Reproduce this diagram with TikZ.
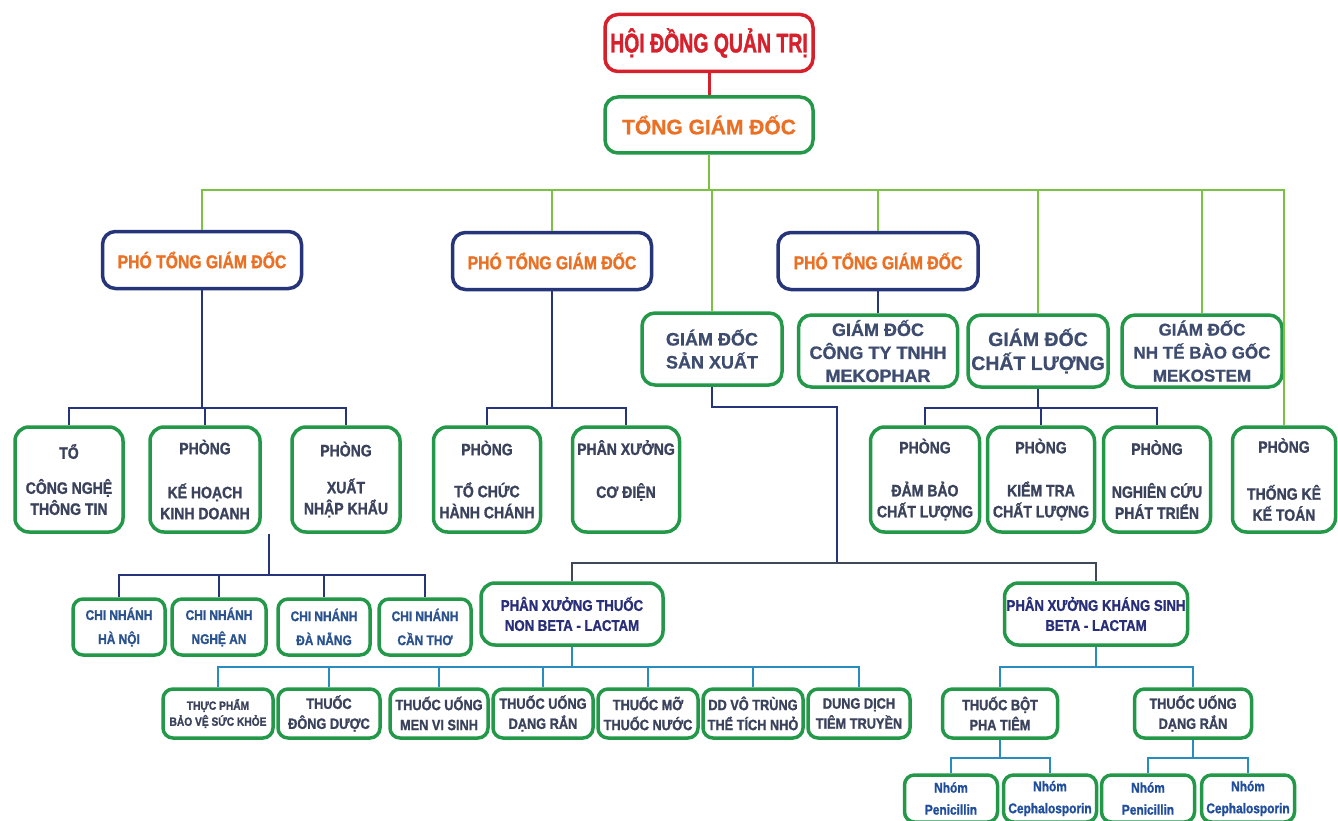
\documentclass[tikz,border=0pt]{standalone}
\usepackage{fontspec}
\setmainfont{Liberation Sans}[BoldFeatures={FakeBold=0.8}]
\newfontfamily\narrowfont{Liberation Sans}[FakeStretch=0.85,BoldFeatures={FakeBold=1.2}]
\newfontfamily\tallfont{Liberation Sans}[FakeStretch=0.72,BoldFeatures={FakeBold=1.2}]
\usetikzlibrary{calc}
\definecolor{boardred}{RGB}{214,32,44}
\definecolor{boxgreen}{RGB}{34,152,72}
\definecolor{linegreen}{RGB}{124,194,66}
\definecolor{headorange}{RGB}{236,112,36}
\definecolor{navy}{RGB}{38,52,122}
\definecolor{slate}{RGB}{58,66,92}
\definecolor{gdtext}{RGB}{62,76,112}
\definecolor{sky}{RGB}{40,140,190}
\definecolor{deepblue}{RGB}{40,46,120}
\definecolor{branchblue}{RGB}{42,82,142}
\definecolor{groupblue}{RGB}{33,78,156}
\definecolor{busgray}{RGB}{62,72,88}

\begin{document}
\begin{tikzpicture}[x=1pt,y=-1pt,
    box/.style={draw=boxgreen,line width=3.5pt,rounded corners=13pt,fill=white,align=center,inner sep=1pt},
    topbox/.style={box,draw=boardred,text=boardred,font=\tallfont\bfseries\fontsize{27}{30}\selectfont,minimum width=208pt,minimum height=57pt},
    ceobox/.style={box,text=headorange,font=\bfseries\fontsize{21}{24}\selectfont,minimum width=208pt,minimum height=56pt},
    vpbox/.style={box,draw=navy,text=headorange,font=\narrowfont\bfseries\fontsize{18.5}{22}\selectfont,minimum width=199pt,minimum height=57pt},
    gdbox/.style={box,text=gdtext,font=\bfseries\fontsize{18}{23}\selectfont,minimum height=72pt},
    deptbox/.style={box,text=slate,font=\narrowfont\bfseries\fontsize{16.5}{21}\selectfont,minimum height=105pt,rounded corners=14pt},
    branchbox/.style={box,text=branchblue,font=\narrowfont\bfseries\fontsize{14}{20}\selectfont,minimum height=56pt,rounded corners=10pt},
    shopbox/.style={box,text=deepblue,font=\narrowfont\bfseries\fontsize{15.5}{20}\selectfont,minimum height=62pt,rounded corners=14pt},
    leafbox/.style={box,text=slate,font=\narrowfont\bfseries\fontsize{15}{20}\selectfont,minimum height=49pt,rounded corners=10pt},
    groupbox/.style={box,text=groupblue,font=\narrowfont\bfseries\fontsize{14}{22}\selectfont,minimum width=93pt,minimum height=47pt,rounded corners=10pt},
    glink/.style={draw=linegreen,line width=2.5pt},
    nlink/.style={draw=navy,line width=2pt},
    slink/.style={draw=busgray,line width=2.2pt},
    blink/.style={draw=sky,line width=2pt}]
  \useasboundingbox (0,0) rectangle (1338,821);

  \node[topbox] (hdqt) at (709,43) {HỘI ĐỒNG QUẢN TRỊ};
  \node[ceobox] (tgd) at (709,125) {TỔNG GIÁM ĐỐC};

  \node[vpbox] (vpA) at (202,260) {PHÓ TỔNG GIÁM ĐỐC};
  \node[vpbox] (vpB) at (552,261) {PHÓ TỔNG GIÁM ĐỐC};
  \node[vpbox,minimum width=200pt] (vpC) at (878,261) {PHÓ TỔNG GIÁM ĐỐC};

  \node[gdbox,minimum width=140pt] (gdsx) at (712,349) {GIÁM ĐỐC\\SẢN XUẤT};
  \node[gdbox,minimum width=159pt] (gdmk) at (878,351) {GIÁM ĐỐC\\CÔNG TY TNHH\\MEKOPHAR};
  \node[gdbox,minimum width=140pt,font=\bfseries\fontsize{19.5}{24}\selectfont] (gdcl) at (1038,351) {GIÁM ĐỐC\\CHẤT LƯỢNG};
  \node[gdbox,minimum width=160pt,font=\bfseries\fontsize{17}{23}\selectfont] (gdms) at (1202,351) {GIÁM ĐỐC\\NH TẾ BÀO GỐC\\MEKOSTEM};

  \foreach \n/\x/\w/\t in {
    cntt/69/108/{TỔ\\[14pt]CÔNG NGHỆ\\THÔNG TIN},
    khkd/205/110/{PHÒNG\\[23pt]KẾ HOẠCH\\KINH DOANH},
    xnk/346/108/{PHÒNG\\[16pt]XUẤT\\NHẬP KHẨU},
    tchc/487/107/{PHÒNG\\[21pt]TỔ CHỨC\\HÀNH CHÁNH},
    cdien/626/107/{PHÂN XƯỞNG\\[22pt]CƠ ĐIỆN\\~},
    dbcl/925/109/{PHÒNG\\[22pt]ĐẢM BẢO\\CHẤT LƯỢNG},
    ktcl/1041/107/{PHÒNG\\[22pt]KIỂM TRA\\CHẤT LƯỢNG},
    nccu/1157/107/{PHÒNG\\[22pt]NGHIÊN CỨU\\PHÁT TRIỂN},
    tkkt/1284/103/{PHÒNG\\[26pt]THỐNG KÊ\\KẾ TOÁN}}
    \node[deptbox,minimum width=\w pt] (\n) at (\x,479.5) {\t};

  \foreach \x/\w/\t [count=\i] in {119/92/HÀ NỘI,219/94/NGHỆ AN,324/92/ĐÀ NẴNG,425/92/CẦN THƠ}
    \node[branchbox,minimum width=\w pt] (cn\i) at (\x,627) {CHI NHÁNH\\[4pt]\t};

  \node[shopbox,minimum width=182pt] (nbeta) at (572,614) {PHÂN XƯỞNG THUỐC\\NON BETA - LACTAM};
  \node[shopbox,minimum width=183pt] (bland) at (1096,614) {PHÂN XƯỞNG KHÁNG SINH\\BETA - LACTAM};

  \node[leafbox,minimum width=110pt,font=\narrowfont\bfseries\fontsize{12}{16}\selectfont] (tppv) at (218,713.5) {THỰC PHẨM\\BẢO VỆ SỨC KHỎE};
  \foreach \n/\x/\w/\t in {
    dduoc/329/102/{THUỐC\\ĐÔNG DƯỢC},
    mvs/439/98/{THUỐC UỐNG\\MEN VI SINH},
    drA/543/100/{THUỐC UỐNG\\DẠNG RẮN},
    mo/648/100/{THUỐC MỠ\\THUỐC NƯỚC},
    dd/753/100/{DD VÔ TRÙNG\\THỂ TÍCH NHỎ},
    tt/859/102/{DUNG DỊCH\\TIÊM TRUYỀN},
    bot/1000/115/{THUỐC BỘT\\PHA TIÊM},
    drB/1193/117/{THUỐC UỐNG\\DẠNG RẮN}}
    \node[leafbox,minimum width=\w pt] (\n) at (\x,713.5) {\t};

  \foreach \n/\x/\t in {gpA/951/Penicillin,gcA/1050/Cephalosporin,gpB/1148/Penicillin,gcB/1248/Cephalosporin}
    \node[groupbox] (\n) at (\x,798.5) {Nhóm\\\t};

  % bus levels
  \coordinate (gbus) at (0,190);
  \coordinate (busA) at (0,408);
  \coordinate (busC) at (0,575);
  \coordinate (busL) at (0,667);
  \coordinate (busG) at (0,758);
  \coordinate (sxA) at (837,407);
  \coordinate (sxB) at (837,563);
  \coordinate (khtap) at ([xshift=7pt]khkd.south east);

  \draw[draw=boardred,line width=3pt] (hdqt.south) -- (tgd.north);
  \foreach \c in {vpA,vpB,gdsx,vpC,gdcl,gdms,tkkt}
    \draw[glink] (tgd.south) -- (tgd.south |- gbus) -| (\c.north);

  \foreach \c in {cntt,khkd,xnk}
    \draw[nlink] (vpA.south) -- (vpA.south |- busA) -| (\c.north);
  \foreach \c in {tchc,cdien}
    \draw[nlink] (vpB.south) -- (vpB.south |- busA) -| (\c.north);
  \draw[nlink] (vpC.south) -- (gdmk.north);
  \foreach \c in {dbcl,ktcl,nccu}
    \draw[nlink] (gdcl.south) -- (gdcl.south |- busA) -| (\c.north);
  \foreach \i in {1,...,4}
    \draw[nlink] (khtap) -- (khtap |- busC) -| (cn\i.north);

  \draw[nlink] (gdsx.south) |- (sxA) -- (sxB);
  \draw[slink] (nbeta.north) |- (sxB) -| (bland.north);

  \foreach \c in {tppv,dduoc,mvs,drA,mo,dd,tt}
    \draw[blink] (nbeta.south) -- (nbeta.south |- busL) -| (\c.north);
  \foreach \c in {bot,drB}
    \draw[blink] (bland.south) -- (bland.south |- busL) -| (\c.north);
  \foreach \c in {gpA,gcA}
    \draw[blink] (bot.south) -- (bot.south |- busG) -| (\c.north);
  \foreach \c in {gpB,gcB}
    \draw[blink] (drB.south) -- (drB.south |- busG) -| (\c.north);
\end{tikzpicture}
\end{document}
